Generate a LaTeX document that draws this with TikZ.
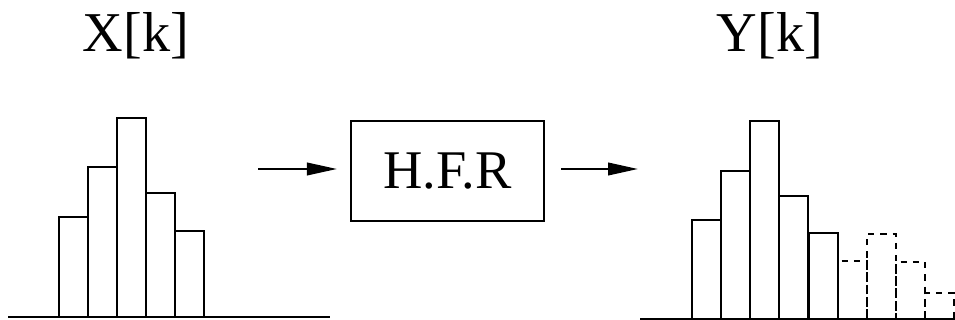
\documentclass[tikz,border=0pt]{standalone}
\usepackage{fontspec}
\setmainfont{Liberation Serif}
\usepackage{tikz}
\usetikzlibrary{arrows.meta,positioning}
\tikzset{
  bar/.style={draw=black, line width=1.3pt},
  ghostbar/.style={draw=black, line width=1pt, dash pattern=on 3.5pt off 3.5pt},
  axis/.style={draw=black, line width=1.2pt},
  block/.style={draw=black, line width=1.2pt, minimum width=3.86cm, minimum height=2cm,
    font=\fontsize{31}{36}\selectfont},
  seqlabel/.style={anchor=base, font=\fontsize{32}{38}\selectfont},
  wire/.style={-{Triangle[length=6mm, width=2.5mm]}, line width=1.3pt}
}

\begin{document}
\begin{tikzpicture}[x=0.02cm, y=-0.02cm]
  \useasboundingbox (0,0) rectangle (955,320);

  % input spectrum
  \node[seqlabel] (xk) at (136,52) {X[k]};
  \draw[axis] (8,317) -- (330,317);
  \foreach \x/\t in {59/217, 88/167, 117/118, 146/193, 175/231}
    \draw[bar] (\x,317) rectangle ++(29,\t-317);

  % filter block
  \node[block] (hfr) at (447.5,171) {H.F.R};
  \coordinate (inL) at (258,169);
  \coordinate (outR) at (638,169);
  \draw[wire] (inL) -- ([xshift=-0.26cm]hfr.west |- inL);
  \draw[wire] ([xshift=0.32cm]hfr.east |- outR) -- (outR);

  % output spectrum, regenerated high band dashed
  \node[seqlabel] (yk) at (770,52) {Y[k]};
  \draw[axis] (640,319) -- (955,319);
  \foreach \x/\t in {692/220, 721/171, 750/121, 779/196, 809/233}
    \draw[bar] (\x,319) rectangle ++(29,\t-319);
  \foreach \x/\t in {838/261, 867/234, 896/262, 925/293}
    \draw[ghostbar] (\x,319) -- (\x,\t) -- ++(29,0) -- ++(0,319-\t);
\end{tikzpicture}
\end{document}
